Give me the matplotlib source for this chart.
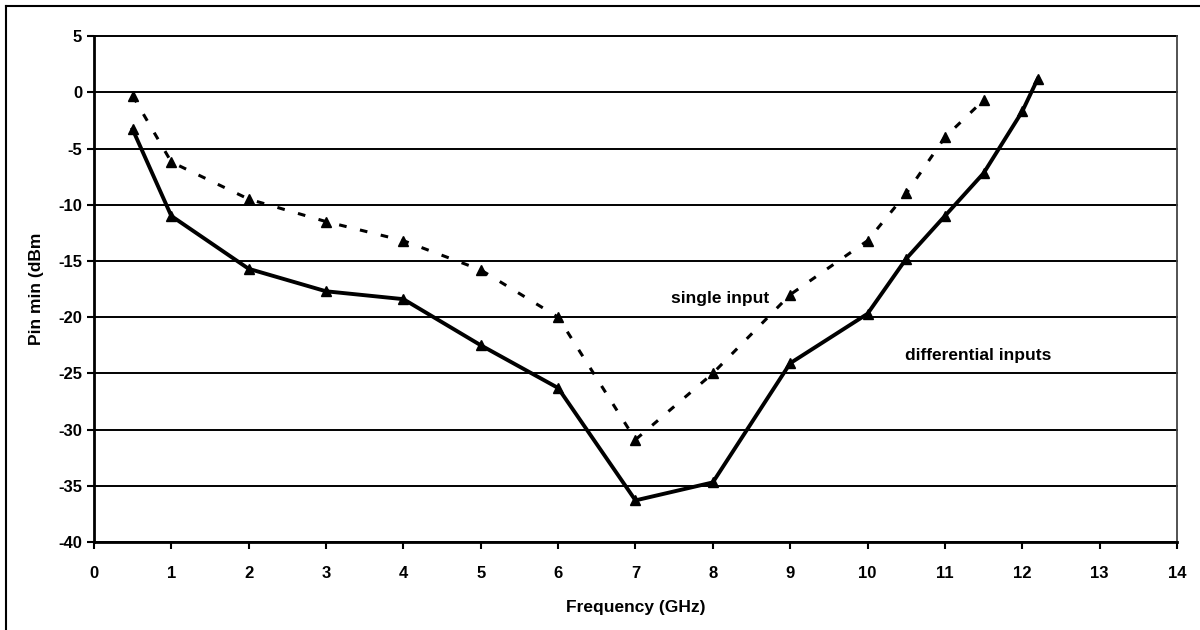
import matplotlib.pyplot as plt
from matplotlib.lines import Line2D

# single input (dashed) and differential inputs (solid)
freq_single = [0.5, 1, 2, 3, 4, 5, 6, 7, 8, 9, 10, 10.5, 11, 11.5]
pin_single = [-0.3, -6.2, -9.5, -11.5, -13.2, -15.8, -20.0, -30.9, -25.0, -18.0, -13.2, -9.0, -4.0, -0.7]

freq_diff = [0.5, 1, 2, 3, 4, 5, 6, 7, 8, 9, 10, 10.5, 11, 11.5, 12, 12.2]
pin_diff = [-3.3, -11.0, -15.7, -17.7, -18.4, -22.5, -26.3, -36.3, -34.7, -24.1, -19.7, -14.8, -11.0, -7.2, -1.7, 1.2]

x_ticks = list(range(0, 15))
y_ticks = list(range(-40, 6, 5))

plt.rcParams['font.family'] = ['Liberation Sans', 'DejaVu Sans']
plt.rcParams['font.weight'] = 'bold'
plt.rcParams['axes.unicode_minus'] = False

fig = plt.figure(figsize=(12, 6.3), dpi=100)
ax = fig.add_axes([0.0783, 0.1397, 0.9025, 0.803])

for y in y_ticks:
    ax.axhline(y, color='black', lw=1.4, zorder=1, clip_on=False)

ax.plot(freq_single, pin_single, color='black', lw=2.2, linestyle=(0, (2.5, 4.5)),
        marker='^', markersize=7, zorder=3)
ax.plot(freq_diff, pin_diff, color='black', lw=2.8, marker='^', markersize=7, zorder=3)

ax.text(7.46, -18.3, 'single input', fontsize=12.5, fontweight='bold', va='center', ha='left')
ax.text(10.48, -23.4, 'differential inputs', fontsize=12.5, fontweight='bold', va='center', ha='left')

ax.set_xlim(0, 14)
ax.set_ylim(-40, 5)
ax.set_xticks(x_ticks)
ax.set_yticks(y_ticks)
ax.tick_params(axis='both', labelsize=12, width=1.5, length=5, direction='out', colors='black')
ax.tick_params(axis='x', pad=12)
for lbl in ax.get_xticklabels() + ax.get_yticklabels():
    lbl.set_fontweight('bold')

ax.spines['top'].set_visible(False)
ax.spines['left'].set_linewidth(2.0)
ax.spines['bottom'].set_linewidth(2.0)
ax.spines['right'].set_linewidth(1.3)
ax.spines['right'].set_color('#444444')

ax.set_xlabel('Frequency (GHz)', fontsize=12.5, fontweight='bold', labelpad=14)
ax.set_ylabel('Pin min (dBm', fontsize=12.5, fontweight='bold', labelpad=10)

# outer frame (top and left edges only, as in the original)
fig.add_artist(Line2D([0.005, 1.0], [0.990, 0.990], transform=fig.transFigure, color='black', lw=1.5))
fig.add_artist(Line2D([0.005, 0.005], [0.0, 0.990], transform=fig.transFigure, color='black', lw=1.5))

plt.savefig('out.png', dpi=100)
